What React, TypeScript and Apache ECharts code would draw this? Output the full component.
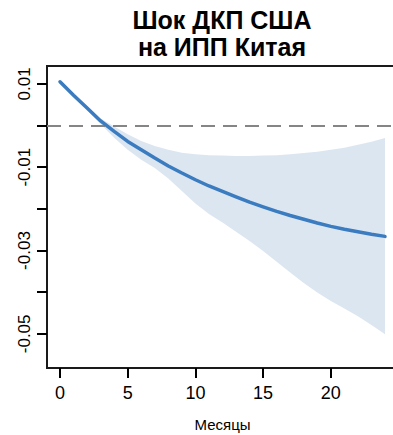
import React, { useEffect, useRef } from "react";
import * as echarts from "echarts";

// Impulse response horizon (months)
const months = [0, 1, 2, 3, 4, 5, 6, 7, 8, 9, 10, 11, 12, 13, 14, 15, 16, 17, 18, 19, 20, 21, 22, 23, 24];

// Point estimate of the response
const irf = [
  0.0105, 0.0073, 0.0042, 0.0011, -0.0014, -0.0038, -0.0058, -0.0078, -0.0097, -0.0114,
  -0.013, -0.0145, -0.0158, -0.0171, -0.0184, -0.0195, -0.0206, -0.0216, -0.0225, -0.0234,
  -0.0242, -0.0249, -0.0255, -0.0261, -0.0266,
];

// Confidence band bounds
const upperBand = [
  0.0105, 0.0074, 0.0045, 0.0017, -0.0002, -0.0021, -0.0037, -0.0049, -0.0058, -0.0065,
  -0.0069, -0.0071, -0.0072, -0.0073, -0.0073, -0.0072, -0.0071, -0.0069, -0.0066, -0.0063,
  -0.0058, -0.0053, -0.0046, -0.0039, -0.003,
];
const lowerBand = [
  0.0105, 0.0072, 0.0038, 0.0004, -0.0029, -0.0058, -0.0082, -0.0102, -0.0127, -0.0157,
  -0.0187, -0.0212, -0.0233, -0.0255, -0.0277, -0.0301, -0.0327, -0.0353, -0.0378, -0.0401,
  -0.0421, -0.0439, -0.0458, -0.0479, -0.0501,
];

// Axis ticks and labels
const xTickValues = [0, 5, 10, 15, 20];
const yTickValues = [0.01, 0, -0.01, -0.02, -0.03, -0.04, -0.05];
const yLabelValues = [0.01, -0.01, -0.03, -0.05];

const titleText = "Шок ДКП США\nна ИПП Китая";
const xAxisTitle = "Месяцы";

const FONT = "'Liberation Sans', Arial, Helvetica, sans-serif";
const FRAME = "#1a1a1a";

// Plot frame geometry
const GRID_LEFT = 47;
const GRID_TOP = 66;
const GRID_WIDTH = 351;
const GRID_HEIGHT = 302;

export default function App() {
  const ref = useRef<HTMLDivElement>(null);

  useEffect(() => {
    if (!ref.current) return;
    const chart = echarts.init(ref.current, null, { renderer: "svg" });

    const bandData = months.map((m, i) => [m, lowerBand[i], upperBand[i]]);
    const lineData = months.map((m, i) => [m, irf[i]]);

    const frameLine = () => ({
      show: true,
      onZero: false,
      lineStyle: { color: FRAME, width: 2 },
    });

    chart.setOption({
      animation: false,
      backgroundColor: "#ffffff",
      graphic: [
        {
          // top edge of the box around the plot
          type: "rect",
          z: 100,
          silent: true,
          shape: {
            x: GRID_LEFT - 1,
            y: GRID_TOP - 1,
            width: 393 - GRID_LEFT + 1,
            height: 2,
          },
          style: { fill: FRAME },
        },
        {
          type: "text",
          x: 222,
          y: 6,
          z: 10,
          style: {
            text: titleText,
            textAlign: "center",
            textVerticalAlign: "top",
            font: `bold 25px ${FONT}`,
            lineHeight: 27,
            fill: "#000000",
          },
        },
      ],
      grid: {
        left: GRID_LEFT,
        top: GRID_TOP,
        width: GRID_WIDTH,
        height: GRID_HEIGHT,
        show: true,
        borderColor: FRAME,
        borderWidth: 2,
        backgroundColor: "transparent",
        containLabel: false,
        outerBoundsMode: "none",
      },
      xAxis: [
        {
          type: "value",
          position: "bottom",
          min: -0.96,
          max: 24.96,
          name: xAxisTitle,
          nameLocation: "middle",
          nameGap: 49,
          nameTextStyle: { fontFamily: FONT, fontSize: 15, color: "#000000" },
          splitLine: { show: false },
          axisLine: frameLine(),
          axisTick: {
            show: true,
            customValues: xTickValues,
            length: 10,
            lineStyle: { color: "#000000", width: 2 },
          },
          axisLabel: {
            customValues: xTickValues,
            margin: 16,
            fontFamily: FONT,
            fontSize: 18,
            color: "#000000",
          },
        },
        {
          type: "value",
          position: "top",
          min: -0.96,
          max: 24.96,
          splitLine: { show: false },
          axisLine: frameLine(),
          axisTick: { show: false },
          axisLabel: { show: false },
        },
      ],
      yAxis: {
        type: "value",
        position: "left",
        min: -0.0582,
        max: 0.0143,
        splitLine: { show: false },
        axisLine: frameLine(),
        axisTick: {
          show: true,
          customValues: yTickValues,
          length: 10,
          lineStyle: { color: "#000000", width: 2 },
        },
        axisLabel: {
          customValues: yLabelValues,
          rotate: 90,
          margin: 14,
          fontFamily: FONT,
          fontSize: 17,
          color: "#000000",
        },
      },
      series: [
        {
          type: "custom",
          name: "band",
          silent: true,
          z: 1,
          data: bandData,
          encode: { x: 0, y: [1, 2] },
          renderItem: (params: any, api: any) => {
            if (params.dataIndex !== 0) return null;
            const top = bandData.map((d) => api.coord([d[0], d[2]]));
            const bottom = bandData
              .slice()
              .reverse()
              .map((d) => api.coord([d[0], d[1]]));
            return {
              type: "polygon",
              shape: { points: top.concat(bottom) },
              style: { fill: "#dce6f1", stroke: "none" },
            };
          },
        },
        {
          type: "line",
          name: "irf",
          z: 3,
          data: lineData,
          showSymbol: false,
          symbol: "none",
          lineStyle: { color: "#3a7cbf", width: 3.5, cap: "round" },
          markLine: {
            silent: true,
            symbol: ["none", "none"],
            label: { show: false },
            z: 2,
            lineStyle: { color: "#858585", width: 2, type: [14, 8] },
            data: [{ yAxis: 0 }],
          },
        },
      ],
    });

    return () => chart.dispose();
  }, []);

  return (
    <div
      ref={ref}
      style={{ position: "absolute", left: 0, top: 0, width: 393, height: 435 }}
    />
  );
}
